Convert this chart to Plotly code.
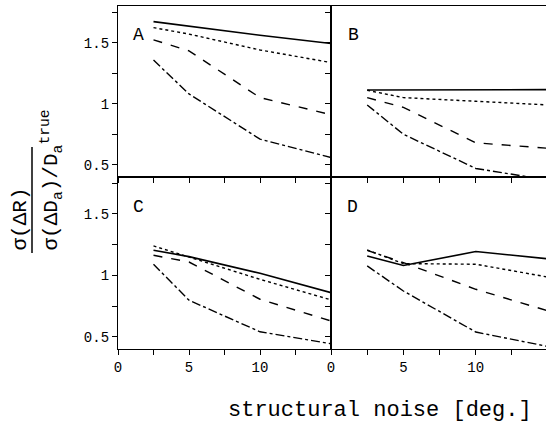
import plotly.graph_objects as go

noise = [2.5, 5, 10, 15]

# Panel A
A_solid = [1.672, 1.635, 1.560, 1.493]
A_dot = [1.623, 1.570, 1.440, 1.337]
A_dash = [1.523, 1.433, 1.050, 0.910]
A_dashdot = [1.357, 1.080, 0.710, 0.560]
# Panel B
B_solid = [1.112, 1.113, 1.114, 1.115]
B_dot = [1.110, 1.050, 1.020, 0.990]
B_dash = [1.050, 0.970, 0.680, 0.635]
B_dashdot = [0.990, 0.750, 0.470, 0.375]
# Panel C
C_solid = [1.204, 1.152, 1.016, 0.859]
C_dot = [1.239, 1.150, 0.967, 0.800]
C_dash = [1.163, 1.108, 0.805, 0.628]
C_dashdot = [1.090, 0.797, 0.540, 0.443]
# Panel D
D_solid = [1.157, 1.080, 1.193, 1.134]
D_dot = [1.206, 1.095, 1.090, 0.985]
D_dash = [1.203, 1.103, 0.886, 0.710]
D_dashdot = [1.076, 0.872, 0.538, 0.420]

panels = {
    "A": (A_solid, A_dot, A_dash, A_dashdot),
    "B": (B_solid, B_dot, B_dash, B_dashdot),
    "C": (C_solid, C_dot, C_dash, C_dashdot),
    "D": (D_solid, D_dot, D_dash, D_dashdot),
}

x_major = [0, 5, 10]
x_major_text = ["0", "5", "10"]
x_minor = [2.5, 7.5, 12.5, 15]
y_major = [0.5, 1, 1.5]
y_major_text = ["0.5", "1", "1.5"]
y_minor = [0.75, 1.25, 1.75]

FONT = "Liberation Mono"
fig = go.Figure()

# layout geometry (pixels)
W, H = 546, 423
L, R, T, B = 118, 0, 6, 74
pw, ph = W - L - R, H - T - B
xsplit = (331 - L) / pw
ysplit = (349 - 177) / ph

axes = {
    "A": ("x", "y", [0, xsplit], [ysplit, 1]),
    "B": ("x2", "y2", [xsplit, 1], [ysplit, 1]),
    "C": ("x3", "y3", [0, xsplit], [0, ysplit]),
    "D": ("x4", "y4", [xsplit, 1], [0, ysplit]),
}

styles = [("solid", 1.6), ("dot", 1.4), ("dash", 1.4), ("dashdot", 1.4)]

for name, series in panels.items():
    xa, ya, _, _ = axes[name]
    for vals, (dash, w) in zip(series, styles):
        fig.add_trace(go.Scatter(x=noise, y=vals, mode="lines", xaxis=xa, yaxis=ya,
                                 line=dict(color="black", width=w, dash=dash),
                                 showlegend=False, hoverinfo="skip"))

layout = dict(
    width=W, height=H, margin=dict(l=L, r=R, t=T, b=B),
    paper_bgcolor="white", plot_bgcolor="white",
    font=dict(family=FONT, size=14, color="black"),
)

tick_common = dict(ticks="outside", ticklen=5, tickwidth=1, tickcolor="black",
                   showline=True, linecolor="black", linewidth=1.3, mirror=True,
                   showgrid=False, zeroline=False, fixedrange=True,
                   tickfont=dict(family=FONT, size=14))

for i, name in enumerate(["A", "B", "C", "D"]):
    xa, ya, xd, yd = axes[name]
    right = name in ("B", "D")
    bottom = name in ("C", "D")
    xk = "xaxis" if i == 0 else f"xaxis{i+1}"
    yk = "yaxis" if i == 0 else f"yaxis{i+1}"
    layout[xk] = dict(
        domain=xd, range=[0, 14.85] if right else [0, 15], anchor=ya,
        tickmode="array", tickvals=x_major, ticktext=x_major_text,
        showticklabels=bottom,
        minor=dict(tickmode="array", tickvals=x_minor, ticks="outside",
                   ticklen=5, tickwidth=1, tickcolor="black", showgrid=False),
        **tick_common,
    )
    layout[yk] = dict(
        domain=yd, range=[0.4, 1.8], anchor=xa,
        tickmode="array", tickvals=y_major, ticktext=y_major_text,
        showticklabels=not right,
        minor=dict(tickmode="array", tickvals=y_minor, ticks="outside",
                   ticklen=5, tickwidth=1, tickcolor="black", showgrid=False),
        **tick_common,
    )

fig.update_layout(**layout)

def px(xp):
    return (xp - L) / pw

def py(yp):
    return (H - B - yp) / ph

letters = {"A": (138, 35), "B": (353, 35), "C": (138, 207), "D": (352, 207)}
for name, (lx, ly) in letters.items():
    fig.add_annotation(x=px(lx), y=py(ly), xref="paper", yref="paper", text=name,
                       showarrow=False, font=dict(family=FONT, size=18),
                       xanchor="center", yanchor="middle")

fig.add_annotation(x=px(380), y=py(410), xref="paper", yref="paper",
                   text="structural noise [deg.]", showarrow=False,
                   font=dict(family=FONT, size=22), xanchor="center", yanchor="middle")

# y-axis title as a fraction
fig.add_annotation(x=px(20), y=py(253), xref="paper", yref="paper",
                   text="σ(ΔR)", textangle=-90, showarrow=False,
                   font=dict(family=FONT, size=21), xanchor="center", yanchor="bottom")
fig.add_annotation(x=px(51), y=py(253), xref="paper", yref="paper",
                   text="σ(ΔD<sub>a</sub>)/D<sub>a</sub><sup>true</sup>", textangle=-90,
                   showarrow=False, font=dict(family=FONT, size=21),
                   xanchor="center", yanchor="bottom")
fig.add_shape(type="line", xref="paper", yref="paper",
              x0=px(32), x1=px(32), y0=py(147), y1=py(253),
              line=dict(color="black", width=1.5))

fig.write_html("out.html")
